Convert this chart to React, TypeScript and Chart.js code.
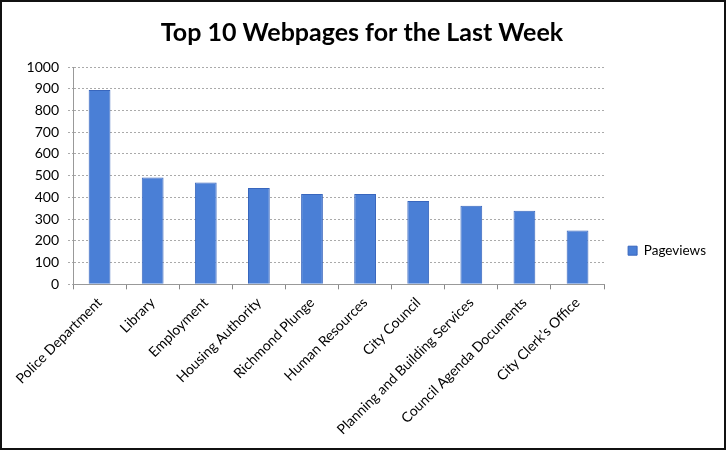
import React, { useEffect, useRef } from "react";
import { Chart, registerables } from "chart.js";

Chart.register(...registerables);

const categories = [
  "Police Department",
  "Library",
  "Employment",
  "Housing Authority",
  "Richmond Plunge",
  "Human Resources",
  "City Council",
  "Planning and Building Services",
  "Council Agenda Documents",
  "City Clerk\u2019s Office",
];
const pageviews = [894, 492, 468, 443, 416, 416, 384, 362, 339, 248];
const titleText = "Top 10 Webpages for the Last Week";
const seriesName = "Pageviews";

const FONT = "Lato, 'Open Sans', sans-serif";

export default function App() {
  const ref = useRef<HTMLCanvasElement | null>(null);
  useEffect(() => {
    document.body.style.margin = "0";
    if (!ref.current) return;
    const chart = new Chart(ref.current, {
      type: "bar",
      data: {
        labels: categories,
        datasets: [
          {
            label: seriesName,
            data: pageviews,
            backgroundColor: "#4a7fd6",
            borderColor: "#3866bd",
            borderWidth: 1,
            categoryPercentage: 1,
            barPercentage: 0.41,
          },
        ],
      },
      options: {
        responsive: false,
        animation: false,
        layout: { padding: { left: 6, right: 8, top: 0, bottom: 5 } },
        plugins: {
          title: {
            display: true,
            text: titleText,
            color: "#000",
            font: { family: FONT, size: 25, weight: "bold" },
            padding: { top: 16, bottom: 19 },
          },
          legend: {
            position: "right",
            title: {
              display: true,
              text: " ",
              font: { family: FONT, size: 12 },
              padding: { top: 21, bottom: 21 },
            },
            labels: {
              boxWidth: 9,
              boxHeight: 9,
              color: "#000",
              font: { family: FONT, size: 13.5 },
              padding: 24,
            },
          },
          tooltip: { enabled: false },
        },
        scales: {
          x: {
            grid: {
              display: true,
              drawOnChartArea: false,
              drawTicks: true,
              tickLength: 5,
              color: "#888",
            },
            border: { display: true, color: "#999", dash: [2, 2] },
            ticks: {
              color: "#000",
              font: { family: FONT, size: 14 },
              minRotation: 45,
              maxRotation: 45,
              autoSkip: false,
              padding: 5,
            },
          },
          y: {
            min: 0,
            max: 1000,
            afterFit: (scale: any) => {
              scale.width = 65;
            },
            ticks: {
              stepSize: 100,
              color: "#000",
              font: { family: FONT, size: 14 },
              padding: 9,
              callback: (v: any) => String(v),
            },
            grid: {
              color: "#aaa",
              tickLength: 5,
              tickBorderDash: [2, 2],
            },
            border: { display: true, color: "#999", dash: [2, 2] },
          },
        },
      },
    });
    return () => chart.destroy();
  }, []);
  return (
    <div
      style={{
        position: "absolute",
        left: 0,
        top: 0,
        width: 726,
        height: 450,
        boxSizing: "border-box",
        border: "2px solid #111",
        background: "#fff",
      }}
    >
      <canvas ref={ref} width={722} height={446} style={{ display: "block" }} />
    </div>
  );
}
